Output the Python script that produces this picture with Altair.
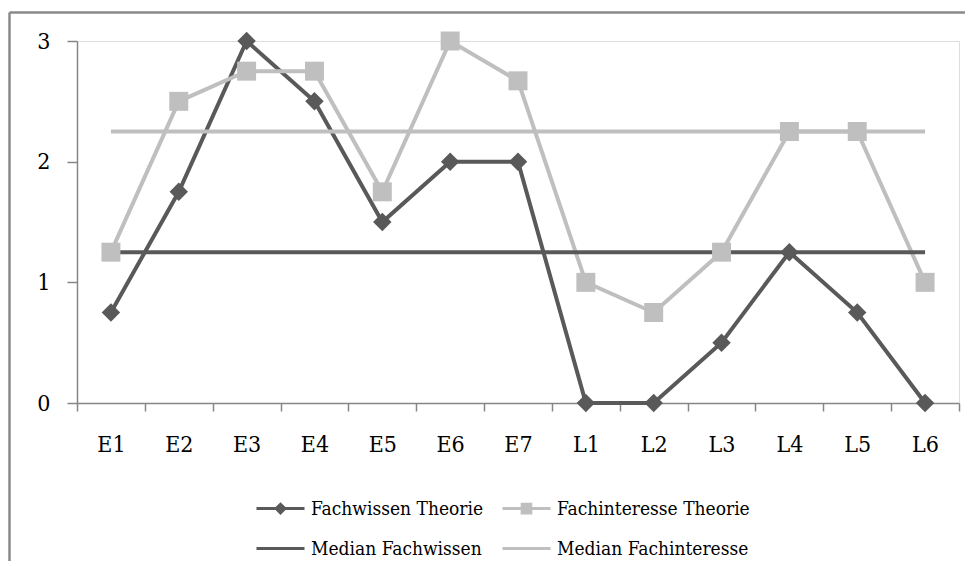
import altair as alt
import pandas as pd

categories = ["E1", "E2", "E3", "E4", "E5", "E6", "E7", "L1", "L2", "L3", "L4", "L5", "L6"]
fachwissen_theorie = [0.75, 1.75, 3.0, 2.5, 1.5, 2.0, 2.0, 0.0, 0.0, 0.5, 1.25, 0.75, 0.0]
fachinteresse_theorie = [1.25, 2.5, 2.75, 2.75, 1.75, 3.0, 2.67, 1.0, 0.75, 1.25, 2.25, 2.25, 1.0]
median_fachwissen = 1.25
median_fachinteresse = 2.25
series_names = ["Fachwissen Theorie", "Fachinteresse Theorie", "Median Fachwissen", "Median Fachinteresse"]
series_colors = ["#595959", "#bfbfbf", "#595959", "#bfbfbf"]
y_ticks = [0, 1, 2, 3]

rows = []
for c, v in zip(categories, fachwissen_theorie):
    rows.append({"cat": c, "series": series_names[0], "value": v})
for c, v in zip(categories, fachinteresse_theorie):
    rows.append({"cat": c, "series": series_names[1], "value": v})
for c in (categories[0], categories[-1]):
    rows.append({"cat": c, "series": series_names[2], "value": median_fachwissen})
    rows.append({"cat": c, "series": series_names[3], "value": median_fachinteresse})
df = pd.DataFrame(rows)

FONT = "DejaVu Serif Condensed"
AXIS_GRAY = "#868686"

sym_expr = (
    "datum.value === 'Fachwissen Theorie' ? 'M-2,0H2M0,-0.36L0.36,0L0,0.36L-0.36,0Z' : "
    "datum.value === 'Fachinteresse Theorie' ? 'M-2,0H2M-0.36,-0.36H0.36V0.36H-0.36Z' : 'M-2,0H2'"
)
fill_expr = "datum.value === 'Fachwissen Theorie' ? '#595959' : datum.value === 'Fachinteresse Theorie' ? '#bfbfbf' : 'transparent'"

x_enc = alt.X(
    "cat:N",
    sort=categories,
    scale=alt.Scale(type="band", paddingInner=0, paddingOuter=0),
    axis=alt.Axis(
        title=None, labelAngle=0, labelFontSize=23, labelColor="black",
        tickBand="extent", tickSize=8, tickColor=AXIS_GRAY, tickWidth=1.5,
        domainColor=AXIS_GRAY, domainWidth=1.5, labelPadding=22, grid=False,
    ),
)
y_enc = alt.Y(
    "value:Q",
    scale=alt.Scale(domain=[0, 3], nice=False),
    axis=alt.Axis(
        title=None, values=y_ticks, format="d", labelFontSize=23,
        labelColor="black", tickSize=10, tickColor=AXIS_GRAY, tickWidth=1.5,
        domainColor=AXIS_GRAY, domainWidth=1.5, labelPadding=17, grid=False,
    ),
)

color_enc = alt.Color(
    "series:N",
    scale=alt.Scale(domain=series_names, range=series_colors),
    legend=alt.Legend(
        title=None, orient="none", legendX=190, legendY=454, columns=2, direction="horizontal",
        labelFontSize=19, labelColor="black", labelLimit=400,
        symbolSize=576, symbolStrokeWidth=3,
        symbolType=alt.ExprRef(expr=sym_expr),
        symbolFillColor=alt.ExprRef(expr=fill_expr),
        labelOffset=17, rowPadding=16, columnPadding=12,
    ),
)

base = alt.Chart(df)

lines = base.mark_line(strokeWidth=4).encode(x=x_enc, y=y_enc, color=color_enc)

pts_fw = base.transform_filter(alt.datum.series == series_names[0]).mark_point(
    shape="diamond", filled=True, size=340, opacity=1, color=series_colors[0]
).encode(x=x_enc, y=y_enc)

pts_fi = base.transform_filter(alt.datum.series == series_names[1]).mark_point(
    shape="square", filled=True, size=360, opacity=1, color=series_colors[1]
).encode(x=x_enc, y=y_enc)

frame_data = alt.Data(values=[{"k": 1}])
frame_top = alt.Chart(frame_data).mark_rule(color="#8a8a8a", strokeWidth=2.5).encode(
    x=alt.value(-67.5), x2=alt.value(1000), y=alt.value(-28.5)
)
frame_left = alt.Chart(frame_data).mark_rule(color="#8a8a8a", strokeWidth=2.5).encode(
    x=alt.value(-67.5), y=alt.value(-28.5), y2=alt.value(600)
)

chart = alt.layer(lines, pts_fw, pts_fi, frame_top, frame_left).properties(
    width=882,
    height=362,
    autosize=alt.AutoSizeParams(type="none"),
    padding={"left": 69, "top": 33, "right": 6, "bottom": 158},
    background="white",
).configure_view(stroke="transparent").configure(font=FONT).configure_axis(
    labelFont=FONT
).configure_legend(labelFont=FONT)

chart.save("out.html", embed_options={"renderer": "svg", "actions": False})
